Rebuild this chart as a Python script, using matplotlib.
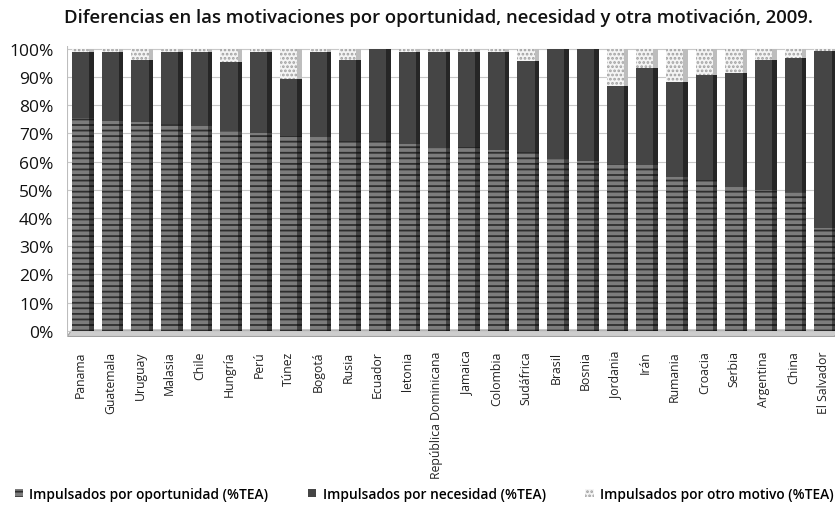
import matplotlib
matplotlib.use("Agg")
import matplotlib.pyplot as plt
import numpy as np
from matplotlib.patches import Polygon

countries = ["Panama", "Guatemala", "Uruguay", "Malasia", "Chile", "Hungría", "Perú",
             "Túnez", "Bogotá", "Rusia", "Ecuador", "letonia", "República Dominicana",
             "Jamaica", "Colombia", "Sudáfrica", "Brasil", "Bosnia", "Jordania", "Irán",
             "Rumania", "Croacia", "Serbia", "Argentina", "China", "El Salvador"]
oportunidad = [75.4, 74.5, 73.9, 73.4, 72.8, 71.0, 70.1, 69.2, 68.7, 67.5, 67.3, 66.3, 64.8,
               65.1, 64.3, 63.4, 61.0, 60.4, 59.3, 58.7, 54.6, 53.4, 51.1, 49.9, 49.3, 36.4]
otro = [1.0, 1.0, 3.8, 1.0, 1.0, 4.7, 1.0, 10.8, 1.0, 3.8, 0.0, 1.0, 1.0,
        1.0, 1.0, 4.3, 0.0, 0.0, 13.1, 6.7, 11.7, 9.4, 8.5, 3.8, 3.2, 0.8]
necesidad = [100 - o - t for o, t in zip(oportunidad, otro)]
yticks = [0, 10, 20, 30, 40, 50, 60, 70, 80, 90, 100]

plt.rcParams['font.family'] = ['Open Sans', 'DejaVu Sans']
plt.rcParams['hatch.linewidth'] = 1.3
fig = plt.figure(figsize=(8.4, 5.06), dpi=100)
ax = fig.add_axes([0.08, 0.333, 0.914, 0.574])

x = np.arange(len(countries))
w = 0.58
side = 0.15
c_op, c_ne, c_ot = "#7c7c7c", "#454545", "#f4f4f4"

# floor
n = len(countries)
ax.add_patch(Polygon([(-0.45, -2), (n - 0.62, -2), (n - 0.45, 0.3), (-0.3, 0.3)],
                     closed=True, facecolor="#cdcdcd", edgecolor="#a0a0a0", lw=0.8, zorder=1))

b1 = ax.bar(x, oportunidad, width=w, color=c_op, edgecolor="#2e2e2e", hatch="---",
            linewidth=0, zorder=3, label="Impulsados por oportunidad (%TEA)")
b2 = ax.bar(x, necesidad, width=w, bottom=oportunidad, color=c_ne, edgecolor=c_ne,
            linewidth=0, zorder=3, label="Impulsados por necesidad (%TEA)")
bot3 = [o + nn for o, nn in zip(oportunidad, necesidad)]
b3 = ax.bar(x, otro, width=w, bottom=bot3, color=c_ot, edgecolor="#a0a0a0", hatch="....",
            linewidth=0, zorder=3, label="Impulsados por otro motivo (%TEA)")
# side faces (3D look)
ax.bar(x + w / 2 + side / 2, oportunidad, width=side, color="#444444", edgecolor="#1a1a1a",
       hatch="---", linewidth=0, zorder=3)
ax.bar(x + w / 2 + side / 2, necesidad, width=side, bottom=oportunidad, color="#262626",
       linewidth=0, zorder=3)
ax.bar(x + w / 2 + side / 2, otro, width=side, bottom=bot3, color="#bdbdbd",
       linewidth=0, zorder=3)

ax.set_ylim(-2, 101)
ax.set_xlim(-0.45, n - 0.6)
ax.set_yticks(yticks)
ax.set_yticklabels([f"{v}%" for v in yticks], fontsize=12.5, color="#111111")
ax.yaxis.grid(True, color="#c8c8c8", lw=0.8, zorder=0)
ax.set_xticks(x)
ax.set_xticklabels(countries, rotation=90, fontsize=8.8, color="#222222")
ax.tick_params(axis="y", length=0, pad=10)
ax.tick_params(axis="x", length=0, pad=10)
for s in ax.spines.values():
    s.set_visible(False)
ax.axvline(-0.45, color="#bdbdbd", lw=0.8)

fig.suptitle("Diferencias en las motivaciones por oportunidad, necesidad y otra motivación, 2009.",
             x=0.522, y=0.983, fontsize=13.3, fontweight="semibold", color="#111111")

leg = fig.legend(handles=[b1, b2, b3], loc="lower center", bbox_to_anchor=(0.505, -0.016), ncol=3,
                 frameon=False, handlelength=0.6, handleheight=0.6,
                 columnspacing=2.9, handletextpad=0.45,
                 prop={"weight": "semibold", "size": 9.9})
fig.savefig("out.png", dpi=100)
